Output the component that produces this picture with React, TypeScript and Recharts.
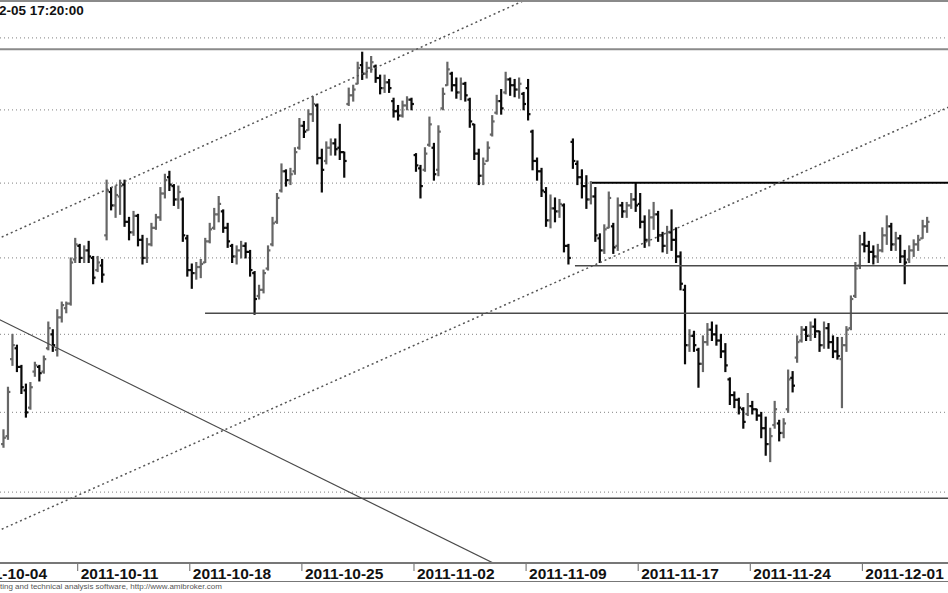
import React from 'react';
import { ComposedChart, Bar, XAxis, YAxis, CartesianGrid, ReferenceLine } from 'recharts';

// intraday bars, 5 per session; the first visible bar is the 4th bar of 2011-10-05
const BARS_PER_DAY = 5;
const FIRST_SLOT = 8;

const tickDays = [0, 5, 10, 15, 20, 25, 30, 35, 40];
const tickLabels = [
  '2011-10-04', '2011-10-11', '2011-10-18', '2011-10-25', '2011-11-02',
  '2011-11-09', '2011-11-17', '2011-11-24', '2011-12-01',
];

const gridPrices = [2250, 2300, 2350, 2400, 2450, 2500, 2550];

const open = [
  2280, 2285,
  2334, 2341, 2329, 2314, 2303, 2326, 2329, 2326, 2341, 2350, 2340, 2361, 2367, 2370, 2399,
  2408, 2400, 2405, 2400, 2392, 2395, 2415, 2444, 2435, 2441, 2449, 2424, 2417, 2428, 2412,
  2400, 2409, 2420, 2427, 2443, 2454, 2448, 2439, 2439, 2413, 2392, 2390, 2394, 2397, 2411,
  2420, 2429, 2431, 2420, 2408, 2401, 2405, 2408, 2404, 2390, 2375, 2379, 2393, 2409, 2424,
  2445, 2458, 2452, 2458, 2474, 2489, 2486, 2497, 2503, 2467, 2465, 2474, 2477, 2474, 2471,
  2504, 2510, 2518, 2531, 2525, 2529, 2530, 2522, 2515, 2519, 2506, 2499, 2496, 2503, 2507,
  2469, 2460, 2459, 2476, 2474, 2459, 2501, 2517, 2525, 2517, 2512, 2518, 2507, 2490, 2470,
  2455, 2465, 2483, 2498, 2506, 2512, 2521, 2517, 2514, 2511, 2515, 2485, 2465, 2458, 2444,
  2425, 2433, 2431, 2435, 2408, 2478, 2463, 2454, 2448, 2439, 2441, 2413, 2405, 2420, 2421,
  2408, 2435, 2431, 2435, 2439, 2436, 2424, 2412, 2427, 2429, 2415, 2408, 2417, 2412, 2401,
  2379, 2343, 2349, 2340, 2331, 2345, 2353, 2350, 2346, 2339, 2321, 2311, 2308, 2302, 2299,
  2304, 2302, 2298, 2290, 2280, 2292, 2293, 2287, 2302, 2322, 2335, 2346, 2353, 2349, 2355,
  2352, 2343, 2354, 2345, 2339, 2334, 2343, 2354, 2375, 2395, 2409, 2408, 2404, 2401, 2405,
  2415, 2421, 2409, 2413, 2401, 2399, 2405, 2409, 2413, 2421,
];

const high = [
  2289, 2316,
  2350, 2343, 2330, 2318, 2319, 2332, 2330, 2336, 2358, 2353, 2366, 2371, 2371, 2400, 2413,
  2409, 2408, 2411, 2401, 2401, 2399, 2452, 2447, 2448, 2452, 2452, 2427, 2431, 2429, 2415,
  2413, 2423, 2429, 2447, 2456, 2458, 2449, 2448, 2440, 2415, 2396, 2397, 2399, 2413, 2423,
  2433, 2441, 2432, 2423, 2409, 2408, 2411, 2410, 2405, 2391, 2382, 2392, 2408, 2427, 2443,
  2463, 2459, 2460, 2474, 2494, 2492, 2500, 2509, 2504, 2473, 2478, 2480, 2480, 2490, 2471,
  2515, 2517, 2533, 2540, 2533, 2537, 2531, 2524, 2524, 2521, 2508, 2503, 2506, 2509, 2508,
  2470, 2462, 2474, 2495, 2477, 2489, 2515, 2533, 2526, 2522, 2522, 2519, 2508, 2490, 2473,
  2467, 2478, 2496, 2510, 2514, 2526, 2522, 2521, 2522, 2512, 2521, 2486, 2467, 2460, 2447,
  2442, 2440, 2439, 2436, 2409, 2480, 2465, 2459, 2455, 2451, 2447, 2416, 2422, 2444, 2423,
  2440, 2437, 2437, 2443, 2450, 2443, 2428, 2432, 2437, 2431, 2417, 2421, 2432, 2420, 2404,
  2382, 2353, 2352, 2341, 2349, 2357, 2358, 2356, 2350, 2344, 2322, 2313, 2309, 2303, 2312,
  2307, 2302, 2300, 2297, 2290, 2307, 2295, 2296, 2327, 2326, 2349, 2355, 2355, 2358, 2360,
  2352, 2358, 2357, 2349, 2348, 2348, 2355, 2375, 2397, 2415, 2417, 2411, 2408, 2409, 2420,
  2428, 2423, 2417, 2415, 2405, 2408, 2412, 2415, 2425, 2427,
];

const low = [
  2278, 2283,
  2330, 2326, 2312, 2297, 2302, 2323, 2320, 2325, 2340, 2339, 2336, 2358, 2364, 2369, 2397,
  2397, 2397, 2397, 2383, 2391, 2384, 2412, 2432, 2427, 2429, 2421, 2412, 2415, 2408, 2396,
  2397, 2408, 2419, 2425, 2440, 2445, 2435, 2433, 2411, 2388, 2380, 2386, 2387, 2397, 2410,
  2419, 2424, 2417, 2407, 2397, 2396, 2400, 2400, 2388, 2363, 2373, 2377, 2392, 2408, 2423,
  2444, 2448, 2449, 2456, 2473, 2481, 2486, 2492, 2463, 2444, 2463, 2469, 2469, 2466, 2454,
  2503, 2506, 2518, 2521, 2522, 2526, 2519, 2511, 2512, 2512, 2495, 2493, 2495, 2500, 2500,
  2458, 2440, 2458, 2475, 2452, 2455, 2500, 2517, 2513, 2508, 2507, 2506, 2488, 2466, 2449,
  2449, 2465, 2482, 2497, 2497, 2511, 2510, 2509, 2508, 2500, 2493, 2459, 2452, 2441, 2421,
  2420, 2424, 2427, 2404, 2396, 2460, 2449, 2440, 2433, 2436, 2411, 2397, 2403, 2420, 2403,
  2405, 2427, 2427, 2433, 2431, 2420, 2407, 2408, 2419, 2411, 2404, 2403, 2405, 2397, 2379,
  2331, 2339, 2339, 2316, 2326, 2343, 2346, 2343, 2335, 2326, 2305, 2303, 2299, 2290, 2298,
  2299, 2295, 2284, 2273, 2269, 2290, 2282, 2284, 2300, 2313, 2332, 2345, 2346, 2346, 2348,
  2339, 2341, 2341, 2335, 2334, 2303, 2339, 2353, 2374, 2393, 2404, 2397, 2396, 2397, 2404,
  2409, 2405, 2405, 2397, 2383, 2397, 2401, 2405, 2413, 2417,
];

const close = [
  2284, 2313,
  2343, 2329, 2316, 2300, 2316, 2330, 2325, 2334, 2354, 2343, 2361, 2369, 2370, 2397, 2409,
  2400, 2405, 2401, 2387, 2397, 2389, 2445, 2435, 2442, 2448, 2424, 2417, 2428, 2412, 2400,
  2409, 2420, 2427, 2443, 2452, 2449, 2439, 2444, 2415, 2392, 2390, 2394, 2396, 2411, 2419,
  2429, 2436, 2420, 2411, 2401, 2405, 2408, 2404, 2392, 2373, 2379, 2390, 2405, 2423, 2440,
  2458, 2452, 2456, 2471, 2489, 2485, 2497, 2504, 2467, 2459, 2474, 2477, 2473, 2471, 2465,
  2510, 2514, 2529, 2525, 2529, 2533, 2522, 2515, 2519, 2515, 2499, 2496, 2503, 2507, 2504,
  2462, 2448, 2470, 2490, 2456, 2485, 2511, 2528, 2517, 2512, 2518, 2510, 2492, 2470, 2455,
  2463, 2474, 2492, 2506, 2501, 2521, 2517, 2514, 2518, 2504, 2497, 2465, 2458, 2445, 2425,
  2433, 2431, 2436, 2408, 2400, 2465, 2454, 2448, 2439, 2441, 2415, 2405, 2419, 2440, 2407,
  2435, 2431, 2435, 2439, 2435, 2424, 2412, 2427, 2429, 2415, 2408, 2417, 2412, 2401, 2383,
  2343, 2349, 2343, 2331, 2345, 2353, 2350, 2346, 2339, 2330, 2311, 2308, 2303, 2294, 2304,
  2302, 2298, 2290, 2280, 2285, 2302, 2287, 2293, 2321, 2317, 2345, 2353, 2349, 2355, 2352,
  2343, 2354, 2345, 2339, 2336, 2343, 2353, 2373, 2393, 2409, 2408, 2404, 2401, 2405, 2415,
  2421, 2409, 2413, 2401, 2397, 2405, 2409, 2412, 2421, 2424,
];

// hand-drawn studies (day index, price)
const horizontalLines = [
  { from: 1.0, price: 2542, color: '#8a8a8a', width: 2 },
  { from: 27.94, price: 2450.3, color: '#000', width: 2 },
  { from: 27.18, price: 2394.9, color: '#4a4a4a', width: 1.5 },
  { from: 10.68, price: 2363.7, color: '#4a4a4a', width: 1.5 },
  { from: 1.0, price: 2246.2, color: '#4a4a4a', width: 1.5 },
];
const trendLines = [
  { a: [1.0, 2409.7], b: [26.0, 2584.3], dash: '2 3', color: '#555' },
  { a: [1.0, 2223.4], b: [44.35, 2505.3], dash: '2 3', color: '#555' },
  { a: [1.0, 2363.2], b: [24.5, 2200.0], dash: undefined, color: '#4a4a4a' },
];

const X_MIN = 1.534;
const X_MAX = 43.82;
const Y_MIN = 2206.5;
const Y_MAX = 2576.8;

const W = 948;
const H = 593;
const AXIS_H = 30;
const UP = '#666';
const DOWN = '#0a0a0a';
const FONT = '"Liberation Sans", Arial, sans-serif';

const bars = high.map((h, i) => ({
  t: (i + FIRST_SLOT + 0.5) / BARS_PER_DAY,
  range: [low[i], h],
  open: open[i],
  close: close[i],
}));

const OhlcShape = (props: any) => {
  const { x, y, width, height, payload } = props;
  if (x == null || y == null || !payload) return null;
  const cx = x + width / 2;
  const [lo, hi] = payload.range;
  const top = Math.min(y, y + height);
  const h = Math.abs(height);
  const lh = Math.log(hi);
  const ll = Math.log(lo);
  const at = (v: number) => (hi === lo ? top : top + ((lh - Math.log(v)) / (lh - ll)) * h);
  const color = payload.close >= payload.open ? UP : DOWN;
  return (
    <g stroke={color} strokeWidth={2.2}>
      <line x1={cx} x2={cx} y1={top - 0.5} y2={top + h + 0.5} />
      <line x1={cx - 2.4} x2={cx} y1={at(payload.open)} y2={at(payload.open)} />
      <line x1={cx} x2={cx + 2.4} y1={at(payload.close)} y2={at(payload.close)} />
    </g>
  );
};

const DateTick = (props: any) => {
  const { x, payload } = props;
  const label = tickLabels[tickDays.indexOf(payload.value)];
  const base = H - AXIS_H;
  return (
    <g>
      <line x1={x} x2={x} y1={base + 1} y2={base + 8} stroke="#666" strokeWidth={1} />
      <text x={x + 3} y={base + 15.5} fontFamily={FONT} fontSize={15.5} fontWeight="bold" fill="#111">
        {label}
      </text>
    </g>
  );
};

export default function App() {
  return (
    <div style={{ position: 'absolute', left: 0, top: 0, width: W, height: H, background: '#fff', overflow: 'hidden' }}>
      <ComposedChart width={W} height={H} data={bars} margin={{ top: 0, right: 0, bottom: 0, left: 0 }}>
        <CartesianGrid vertical={false} stroke="#9a9a9a" strokeWidth={1.2} strokeDasharray="1 3" />
        <XAxis
          type="number"
          dataKey="t"
          domain={[X_MIN, X_MAX]}
          allowDataOverflow
          ticks={tickDays}
          interval={0}
          tick={<DateTick />}
          tickLine={false}
          axisLine={{ stroke: '#777', strokeWidth: 2 }}
          height={AXIS_H}
        />
        <YAxis hide type="number" scale="log" domain={[Y_MIN, Y_MAX]} allowDataOverflow ticks={gridPrices} />
        {horizontalLines.map((l, i) => (
          <ReferenceLine
            key={`h${i}`}
            segment={[{ x: l.from, y: l.price }, { x: 45, y: l.price }]}
            stroke={l.color}
            strokeWidth={l.width}
            ifOverflow="hidden"
          />
        ))}
        {trendLines.map((l, i) => (
          <ReferenceLine
            key={`t${i}`}
            segment={[{ x: l.a[0], y: l.a[1] }, { x: l.b[0], y: l.b[1] }]}
            stroke={l.color}
            strokeWidth={l.dash ? 1.5 : 1.2}
            strokeDasharray={l.dash}
            ifOverflow="hidden"
          />
        ))}
        <Bar dataKey="range" barSize={4} shape={<OhlcShape />} isAnimationActive={false} />
      </ComposedChart>
      <div style={{ position: 'absolute', left: 0, top: 0, width: W, height: 2, background: '#8a8a8a' }} />
      <div style={{ position: 'absolute', left: -1, top: 2, fontFamily: FONT, fontSize: 13.5, fontWeight: 'bold', color: '#111', lineHeight: '17px' }}>
        2-05 17:20:00
      </div>
      <div style={{ position: 'absolute', left: 0, top: 580.5, width: W, height: 1.5, background: '#777' }} />
      <div style={{ position: 'absolute', left: 0, top: 582, fontFamily: FONT, fontSize: 8, color: '#555', lineHeight: '10px', whiteSpace: 'nowrap' }}>
        ting and technical analysis software, http://www.amibroker.com
      </div>
    </div>
  );
}
